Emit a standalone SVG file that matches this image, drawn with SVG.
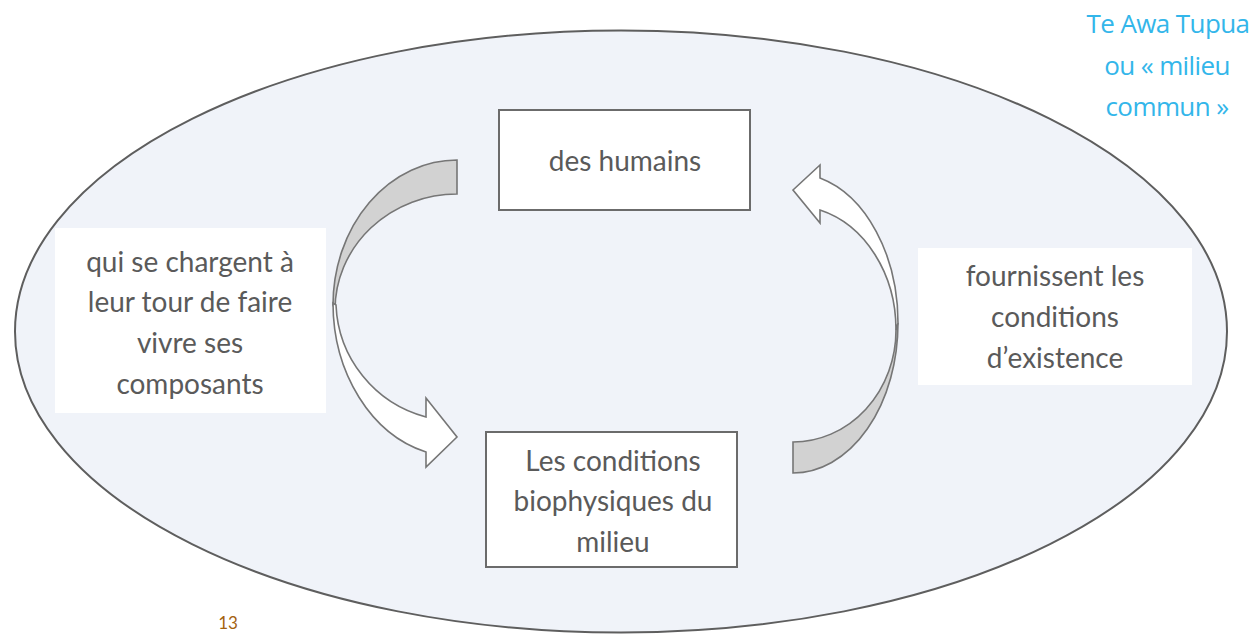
<svg xmlns="http://www.w3.org/2000/svg" width="1260" height="634" viewBox="0 0 1260 634">
<style>
.lbl{font-family:Lato,"Open Sans","Liberation Sans",sans-serif;font-size:28px;fill:#5a5a5a;text-anchor:middle}
.ttl{font-family:"Open Sans",Lato,"Liberation Sans",sans-serif;font-size:26px;font-weight:500;fill:#33b6ea;text-anchor:middle;letter-spacing:-0.6px}
.box{fill:#ffffff;stroke:#6b6b6b;stroke-width:2}
.pad{fill:#ffffff}
.back{fill:#d2d2d2;stroke:#767676;stroke-width:1.6;stroke-linejoin:miter}
.front{fill:#ffffff;stroke:#767676;stroke-width:1.6;stroke-linejoin:miter}
</style>
<rect width="1260" height="634" fill="#ffffff"/>
<g id="milieu">
<ellipse cx="621" cy="331.5" rx="606" ry="301" fill="#f0f3f9" stroke="#5e5e5e" stroke-width="2"/>
</g>
<g id="title">
<text class="ttl" x="1168" y="33">Te Awa Tupua</text>
<text class="ttl" x="1167" y="75">ou « milieu</text>
<text class="ttl" x="1167" y="116">commun »</text>
</g>
<g id="connectors">
<path class="back" d="M457,160 A124 145 0 0 0 333,305 L335,310 A122 116 0 0 1 457,194 Z"/>
<path class="front" d="M333,303 A124 154 0 0 0 426,452 L426,467 L457,437 L426,398 L426,417 A121 121 0 0 1 336,305 Z"/>
<path class="back" d="M793,473 A105 150 0 0 0 898,323 L896,330 A103 112 0 0 1 793,442 Z"/>
<path class="front" d="M898,323 A105 150 0 0 0 820,178 L820,165 L793,190 L820,223 L820,210 A103 124 0 0 1 896,330 Z"/>
</g>
<g id="humains">
<rect class="box" x="499" y="110" width="251" height="100"/>
<text class="lbl" x="625" y="171">des humains</text>
</g>
<g id="conditions">
<rect class="box" x="486" y="432" width="251" height="135"/>
<text class="lbl" x="613" y="471">Les conditions</text>
<text class="lbl" x="613" y="511">biophysiques du</text>
<text class="lbl" x="613" y="552">milieu</text>
</g>
<g id="label-left">
<rect class="pad" x="55" y="228" width="271" height="185"/>
<text class="lbl" x="190" y="272">qui se chargent à</text>
<text class="lbl" x="190" y="312">leur tour de faire</text>
<text class="lbl" x="190" y="353">vivre ses</text>
<text class="lbl" x="190" y="394">composants</text>
</g>
<g id="label-right">
<rect class="pad" x="918" y="248" width="274" height="137"/>
<text class="lbl" x="1055" y="286">fournissent les</text>
<text class="lbl" x="1055" y="327">conditions</text>
<text class="lbl" x="1055" y="368">d’existence</text>
</g>
<g id="page">
<text x="228" y="629" font-family="Lato,'Liberation Sans',sans-serif" font-size="17" fill="#a4620f" text-anchor="middle">13</text>
</g>
</svg>
